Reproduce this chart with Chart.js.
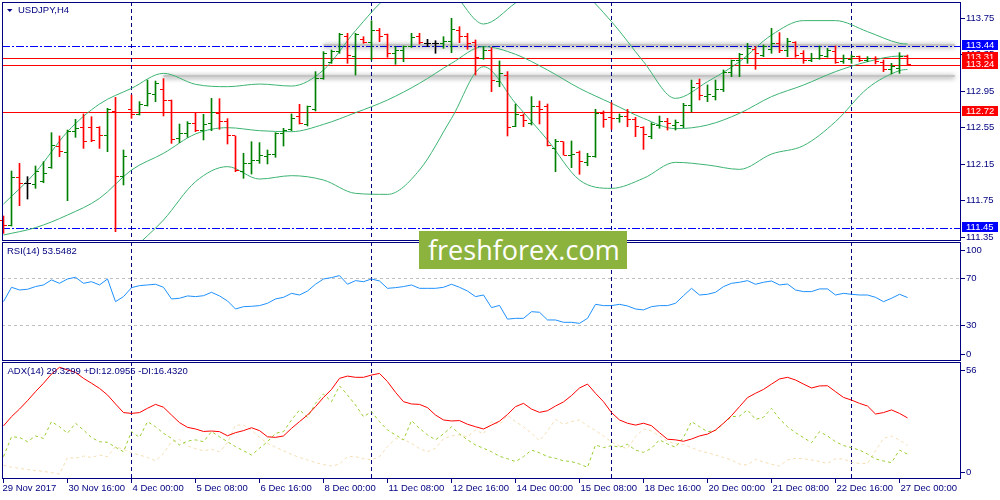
<!DOCTYPE html>
<html>
<head>
<meta charset="utf-8">
<title>USDJPY,H4</title>
<script src="https://cdn.jsdelivr.net/npm/chart.js@4.4.1/dist/chart.umd.min.js"></script>
<style>
  html, body { margin: 0; padding: 0; background: #fff; }
  #wrap { position: relative; width: 1000px; height: 500px; overflow: hidden; background: #fff; }
  #wrap canvas { position: absolute; left: 0; }
  #logo {
    position: absolute; left: 419px; top: 231px; width: 208px; height: 38px;
    box-sizing: border-box; padding-left: 9px; background: #8db33f; color: #fff;
    font: 27px "Open Sans", sans-serif; line-height: 38px; white-space: nowrap;
  }
</style>
</head>
<body>
<div id="wrap">
  <canvas id="priceChart" width="1000" height="241" style="top:0px"></canvas>
  <canvas id="rsiChart" width="1000" height="119" style="top:242px"></canvas>
  <canvas id="adxChart" width="1000" height="139" style="top:361px"></canvas>
  <div id="logo">freshforex.com</div>
</div>
<script>
// time axis (bar index -> label)
const timeTickIdx = [0, 8, 16, 24, 32, 40, 48, 56, 64, 72, 80, 88, 96, 104, 112];
const timeTickText = ["29 Nov 2017", "30 Nov 16:00", "4 Dec 00:00", "5 Dec 08:00", "6 Dec 16:00",
  "8 Dec 00:00", "11 Dec 08:00", "12 Dec 16:00", "14 Dec 00:00", "15 Dec 08:00",
  "18 Dec 16:00", "20 Dec 00:00", "21 Dec 08:00", "22 Dec 16:00", "27 Dec 00:00"];
const weekStartIdx = [16, 46, 76, 106];

// USDJPY H4 bars
const barOpen = [111.536, 111.478, 112.007, 111.938, 111.920, 111.956, 112.113, 112.347, 112.281, 112.504,
  112.548, 112.552, 112.552, 112.467, 112.723, 112.011, 112.749, 112.687, 112.796, 112.906,
  112.968, 112.851, 112.431, 112.486, 112.595, 112.515, 112.595, 112.705, 112.614, 112.457,
  112.066, 112.157, 112.186, 112.230, 112.259, 112.486, 112.530, 112.668, 112.588, 112.742,
  113.089, 113.260, 113.381, 113.552, 113.326, 113.516, 113.479, 113.618, 113.564, 113.363,
  113.399, 113.436, 113.545, 113.472, 113.472, 113.472, 113.490, 113.618, 113.545, 113.479,
  113.308, 113.399, 113.052, 113.125, 112.566, 112.676, 112.595, 112.778, 112.785, 112.321,
  112.394, 112.248, 112.274, 112.168, 112.230, 112.705, 112.661, 112.643, 112.668, 112.639,
  112.552, 112.449, 112.577, 112.614, 112.577, 112.577, 112.796, 113.034, 112.888, 112.888,
  112.961, 113.151, 113.282, 113.308, 113.406, 113.344, 113.406, 113.472, 113.399, 113.479,
  113.363, 113.282, 113.308, 113.333, 113.381, 113.271, 113.297, 113.326, 113.282, 113.308,
  113.260, 113.180, 113.198, 113.326];
const barHigh = [111.580, 112.073, 112.157, 112.011, 112.128, 112.175, 112.493, 112.457, 112.522, 112.639,
  112.698, 112.668, 112.559, 112.760, 112.880, 112.303, 112.906, 112.833, 113.070, 113.059,
  113.085, 112.851, 112.588, 112.614, 112.705, 112.694, 112.869, 112.866, 112.647, 112.457,
  112.267, 112.394, 112.384, 112.303, 112.493, 112.541, 112.698, 112.804, 112.785, 113.162,
  113.381, 113.399, 113.582, 113.582, 113.582, 113.545, 113.720, 113.636, 113.574, 113.436,
  113.443, 113.582, 113.582, 113.516, 113.501, 113.545, 113.746, 113.655, 113.582, 113.509,
  113.436, 113.425, 113.279, 113.162, 112.807, 112.698, 112.888, 112.840, 112.807, 112.420,
  112.394, 112.402, 112.292, 112.267, 112.749, 112.731, 112.822, 112.698, 112.749, 112.661,
  112.559, 112.603, 112.676, 112.650, 112.632, 112.815, 113.070, 113.081, 113.016, 113.070,
  113.180, 113.289, 113.363, 113.472, 113.436, 113.454, 113.636, 113.589, 113.527, 113.490,
  113.392, 113.363, 113.443, 113.417, 113.443, 113.344, 113.344, 113.333, 113.326, 113.326,
  113.289, 113.253, 113.370, 113.344];
const barLow = [111.390, 111.470, 111.693, 111.766, 111.883, 111.945, 112.102, 112.230, 111.748, 112.442,
  112.321, 112.394, 112.321, 112.285, 111.408, 111.920, 112.650, 112.687, 112.785, 112.833,
  112.676, 112.376, 112.384, 112.442, 112.504, 112.413, 112.515, 112.530, 112.369, 112.066,
  111.993, 112.040, 112.157, 112.150, 112.223, 112.347, 112.515, 112.588, 112.566, 112.731,
  113.078, 113.253, 113.363, 113.253, 113.125, 113.472, 113.289, 113.490, 113.319, 113.242,
  113.271, 113.428, 113.465, 113.436, 113.363, 113.417, 113.370, 113.479, 113.406, 113.125,
  113.297, 112.943, 112.997, 112.457, 112.559, 112.559, 112.577, 112.588, 112.347, 112.066,
  112.248, 112.110, 112.037, 112.131, 112.223, 112.552, 112.530, 112.607, 112.559, 112.449,
  112.310, 112.427, 112.541, 112.522, 112.522, 112.548, 112.720, 112.851, 112.833, 112.851,
  112.943, 113.107, 113.107, 113.253, 113.187, 113.326, 113.363, 113.370, 113.326, 113.319,
  113.253, 113.271, 113.297, 113.319, 113.253, 113.253, 113.253, 113.271, 113.271, 113.246,
  113.162, 113.136, 113.143, 113.235];
const barClose = [111.478, 112.007, 111.934, 111.938, 112.066, 112.048, 112.354, 112.285, 112.511, 112.541,
  112.394, 112.405, 112.457, 112.742, 112.018, 112.237, 112.687, 112.807, 112.924, 113.034,
  112.851, 112.413, 112.486, 112.595, 112.522, 112.588, 112.712, 112.614, 112.464, 112.077,
  112.157, 112.186, 112.248, 112.259, 112.486, 112.515, 112.650, 112.595, 112.778, 113.089,
  113.363, 113.381, 113.564, 113.344, 113.564, 113.479, 113.611, 113.552, 113.363, 113.399,
  113.436, 113.538, 113.479, 113.472, 113.472, 113.490, 113.626, 113.545, 113.472, 113.319,
  113.399, 113.063, 113.143, 112.552, 112.687, 112.625, 112.778, 112.742, 112.358, 112.394,
  112.248, 112.259, 112.175, 112.230, 112.705, 112.639, 112.643, 112.668, 112.639, 112.559,
  112.478, 112.588, 112.614, 112.595, 112.603, 112.796, 112.990, 112.895, 112.906, 112.961,
  113.151, 113.289, 113.355, 113.417, 113.363, 113.436, 113.472, 113.399, 113.490, 113.344,
  113.289, 113.308, 113.344, 113.392, 113.260, 113.308, 113.326, 113.289, 113.304, 113.271,
  113.180, 113.216, 113.326, 113.245];

// Bollinger bands, read every 4 bars
const bbIdx = [0, 4, 8, 12, 16, 20, 24, 28, 32, 36, 40, 44, 48, 52, 56, 60, 64, 68, 72, 76,
  80, 84, 88, 92, 96, 100, 104, 108, 112, 113];
const bbUpper = [111.711, 112.058, 112.504, 112.807, 112.979, 113.143, 113.023, 112.997, 113.026, 113.004,
  113.180, 113.611, 113.984, 114.166, 114.038, 113.684, 113.914, 114.166, 114.057, 113.710,
  113.271, 112.869, 113.052, 113.271, 113.563, 113.721, 113.721, 113.600, 113.472, 113.465];
const bbMiddle = [111.372, 111.452, 111.591, 111.773, 112.084, 112.267, 112.479, 112.548, 112.515, 112.504,
  112.584, 112.712, 112.851, 113.034, 113.253, 113.436, 113.352, 113.180, 112.979, 112.815,
  112.650, 112.537, 112.577, 112.705, 112.888, 113.015, 113.162, 113.271, 113.333, 113.333];
const bbLower = [111.032, 110.846, 110.678, 110.740, 111.189, 111.536, 111.956, 112.121, 111.985, 112.022,
  111.974, 111.828, 111.817, 112.084, 112.650, 113.216, 112.815, 112.413, 111.974, 111.883,
  111.993, 112.168, 112.139, 112.091, 112.259, 112.351, 112.614, 112.979, 113.173, 113.187];

// RSI(14)
const rsiValues = [50, 62.3, 60, 60.6, 62.9, 64.3, 68.6, 65.7, 69.4, 70.9,
  65.7, 67.1, 64.3, 69.4, 50, 54.3, 62, 63.7, 64.3, 64.9,
  62.3, 52.3, 52.9, 54.9, 54.3, 55.1, 58, 54.9, 50.6, 43.7,
  45.7, 46, 46.6, 48.6, 52.3, 53.7, 57.1, 55.7, 59.1, 64.9,
  69.4, 70.6, 72.3, 64.9, 68, 67.1, 69.4, 67.7, 61.4, 62,
  62.9, 64.3, 61.4, 61.4, 61.4, 62.3, 64.9, 62.3, 59.1, 54.3,
  55.7, 44.9, 46.8, 35.0, 35.7, 35.7, 41.4, 40.9, 34.3, 34.3,
  32.3, 32.3, 31.4, 35.7, 47.7, 46.6, 46.6, 47.7, 46.3, 43.7,
  42.9, 45.7, 46.6, 46.6, 48.6, 55.1, 61.4, 55.7, 56.3, 58,
  62.9, 65.7, 66.6, 68, 64.9, 66.6, 67.7, 64.3, 65.1, 60,
  58.6, 58.6, 60.9, 60.9, 55.7, 57.1, 56.3, 55.7, 55.7, 53.7,
  50, 52.9, 56.3, 53.5482];
const rsiLevels = [70, 30];

// ADX(14), +DI, -DI
const adxValues = [25.9, 30.4, 34.1, 38.2, 42.6, 46.7, 51.2, 54.5, 53.2, 52,
  49.1, 46.7, 44.2, 41, 36.6, 32.4, 32, 32.4, 34.5, 36.4,
  35, 31.2, 27.5, 25.2, 24.4, 23.2, 23.4, 23.1, 21.1, 22.6,
  23.6, 25, 23.6, 20.6, 20.3, 21, 24.7, 28, 31.2, 35.3,
  39.8, 43.7, 49.1, 50.2, 49.6, 49.6, 50.7, 51.5, 47.5, 42.3,
  37.7, 36.6, 36.4, 34.8, 31.2, 28.8, 28.3, 28.5, 26.7, 25.5,
  24.4, 26.3, 28.2, 31.5, 35.3, 36.9, 34.1, 32.5, 33.3, 35.6,
  37.6, 40.7, 44.4, 46.3, 41.8, 37.7, 32.4, 28.8, 27.2, 26.3,
  27.2, 26, 22.6, 19.4, 19.1, 18.4, 19.5, 21, 21.9, 23.9,
  27.2, 30.9, 35.3, 39.7, 41.8, 43.7, 46.3, 48.8, 49.6, 48.3,
  46.3, 44.4, 45.4, 45.5, 42.6, 39.8, 38.5, 36.9, 35.6, 31.7,
  32.4, 33.7, 32, 29.8];
const plusDi = [10.9, 20.6, 20.3, 18.2, 21, 19.8, 28, 25.5, 22.3, 27.2,
  23.9, 20.2, 18.2, 17.9, 15.5, 13.3, 23.1, 20.3, 28, 25.5,
  22.3, 19.8, 16.6, 18.5, 19.1, 18.2, 23.1, 20.6, 18.2, 15.8,
  13.8, 11.7, 15, 18.2, 22.3, 23.1, 28.8, 33.7, 30.1, 36.9,
  41.5, 37.7, 45.4, 41, 36.1, 30.4, 32.8, 28, 23.9, 21.5,
  19.1, 28.5, 24.7, 21.5, 19.1, 22, 25.5, 22, 19.1, 16.6,
  15, 13.3, 11.1, 9.9, 8.5, 10.9, 14.1, 12.8, 10.9, 10.1,
  8.9, 8.5, 7.3, 5.7, 16.6, 15.3, 16.3, 15.5, 16.9, 14.1,
  13, 15, 19.1, 17.1, 15.5, 20.3, 28, 25.5, 23.1, 23.6,
  27.2, 30.4, 30.7, 33.7, 29.1, 30.1, 34.5, 29.3, 25.5, 22.6,
  20.2, 17.7, 23.1, 21, 18.2, 16.3, 15.3, 14.1, 12.2, 9.8,
  8.8, 8, 14.1, 12.1];
const minusDi = [6.8, 5.7, 5.2, 4.6, 4.1, 3.7, 3.1, 2.4, 10.5, 10.1,
  11.2, 10.5, 11.7, 10.9, 15.8, 14.5, 12.8, 11.7, 10.5, 8.9,
  12.5, 18.2, 19.3, 16.1, 14.8, 13.8, 14.5, 13.2, 17.7, 26.3,
  26.3, 23.9, 20.3, 17.4, 15.5, 13.8, 12, 10.5, 9.3, 8,
  7, 6.3, 7.3, 10.9, 10.9, 9.9, 9.3, 10.9, 15.8, 19.7,
  19.3, 17.4, 14.8, 13.3, 15, 19.7, 21, 21.5, 20.6, 23.9,
  22, 28, 26.5, 31.1, 28, 25.5, 22.3, 18.7, 23.4, 29.1,
  26.7, 28, 28.8, 25.9, 23.6, 21, 18.1, 16.1, 14.8, 20.6,
  24.4, 23.4, 21.1, 18.4, 17.2, 16.9, 15.3, 13.8, 12.8, 11.7,
  10.5, 9.3, 7.3, 6.8, 9.6, 8.3, 7.2, 6.3, 9.3, 10.1,
  9.9, 9.3, 8.5, 7.6, 9.8, 9.8, 8.1, 7.6, 7.6, 13.8,
  19.8, 21, 19, 16.4];

// axis ticks
const priceTicks = [113.75, 113.35, 112.95, 112.55, 112.15, 111.75, 111.35];
const rsiTicks = [100, 70, 30, 0];
const adxTicks = [56, 0];

// chart objects on the price pane
const redLevels = [113.31, 113.24, 112.72];
const blueLevels = [113.44, 111.45];
const bandPrice = [113.454, 113.114];
const bandFrom = [40, 20];
const bandTo = [118.9, 118.9];
const tagPrice = [113.44, 113.31, 113.24, 112.72, 111.45];
const tagColor = ["#0000ff", "#ff0000", "#ff0000", "#ff0000", "#0000ff"];

const NAVY = "#000080";
const FONT = '9.5px "Liberation Sans", Arial, sans-serif';
const UP = "#008000", DOWN = "#ff0000", DOJI = "#000000";
const BB_GREEN = "#3cb371";

const barColors = barClose.map((c, i) => c > barOpen[i] ? UP : (c < barOpen[i] ? DOWN : DOJI));

function xAxis() {
  return { type: "linear", display: false, min: -0.1875, max: 119.5625, offset: false };
}

function pts(idx, vals) {
  return vals.map((v, k) => ({ x: idx ? idx[k] : k, y: v }));
}

// helpers shared by the panes
function drawFrame(chart) {
  const { ctx, chartArea: a } = chart;
  ctx.save();
  ctx.strokeStyle = NAVY;
  ctx.lineWidth = 1;
  ctx.strokeRect(a.left + 0.5, a.top + 0.5, a.right - a.left, a.bottom - a.top);
  ctx.restore();
}

function drawSeparators(chart) {
  const { ctx, chartArea: a, scales: { x } } = chart;
  ctx.save();
  ctx.strokeStyle = NAVY;
  ctx.lineWidth = 1;
  ctx.setLineDash([4, 3]);
  weekStartIdx.forEach(i => {
    const px = Math.floor(x.getPixelForValue(i)) + 0.5;
    ctx.beginPath();
    ctx.moveTo(px, a.top);
    ctx.lineTo(px, a.bottom);
    ctx.stroke();
  });
  ctx.restore();
}

function drawHLine(chart, value, color, dash) {
  const { ctx, chartArea: a, scales: { y } } = chart;
  const py = Math.round(y.getPixelForValue(value)) + 0.5;
  ctx.save();
  ctx.strokeStyle = color;
  ctx.lineWidth = 1;
  ctx.setLineDash(dash || []);
  ctx.beginPath();
  ctx.moveTo(a.left, py);
  ctx.lineTo(a.right, py);
  ctx.stroke();
  ctx.restore();
}

function drawYLabels(chart, ticks, digits, clamp) {
  const { ctx, chartArea: a, scales: { y } } = chart;
  ctx.save();
  ctx.font = FONT;
  ctx.fillStyle = NAVY;
  ctx.strokeStyle = NAVY;
  ctx.textAlign = "left";
  ctx.textBaseline = "middle";
  ticks.forEach(v => {
    let py = y.getPixelForValue(v);
    if (clamp) py = Math.min(Math.max(py, a.top + 7.5), a.bottom - 6.5);
    py = Math.round(py);
    ctx.beginPath();
    ctx.moveTo(a.right + 1, py + 0.5);
    ctx.lineTo(a.right + 5, py + 0.5);
    ctx.stroke();
    ctx.fillText(v.toFixed(digits), a.right + 6, py + 0.5);
  });
  ctx.restore();
}

function drawCaption(chart, text, x, y) {
  const ctx = chart.ctx;
  ctx.save();
  ctx.font = FONT;
  ctx.fillStyle = NAVY;
  ctx.textAlign = "left";
  ctx.textBaseline = "middle";
  ctx.fillText(text, x, y);
  ctx.restore();
}

// price pane: objects, bar ticks, axis, price tags
const pricePane = {
  id: "pricePane",
  beforeDatasetsDraw(chart) {
    const { ctx, scales: { x, y } } = chart;
    redLevels.forEach(v => drawHLine(chart, v, "#ff0000"));
    blueLevels.forEach(v => drawHLine(chart, v, "#0000ff", [8, 2, 2, 2]));
    // channel lines: light grey with a soft shadow
    ctx.save();
    bandPrice.forEach((p, k) => {
      const py = Math.round(y.getPixelForValue(p));
      const x1 = x.getPixelForValue(bandFrom[k]);
      const x2 = x.getPixelForValue(bandTo[k]);
      ctx.shadowColor = "rgba(0,0,0,0.55)";
      ctx.shadowBlur = 5;
      ctx.shadowOffsetY = 1;
      ctx.strokeStyle = "#c4c4c4";
      ctx.lineWidth = 2;
      ctx.beginPath();
      ctx.moveTo(x1, py);
      ctx.lineTo(x2, py);
      ctx.stroke();
    });
    ctx.restore();
    drawSeparators(chart);
  },
  afterDatasetsDraw(chart) {
    const { ctx, scales: { x, y } } = chart;
    ctx.save();
    barOpen.forEach((o, i) => {
      const px = Math.floor(x.getPixelForValue(i));
      ctx.fillStyle = barColors[i];
      ctx.fillRect(px - 3, Math.floor(y.getPixelForValue(o)), 3, 1);
      ctx.fillRect(px + 1, Math.floor(y.getPixelForValue(barClose[i])), 3, 1);
    });
    ctx.restore();
  },
  afterDraw(chart) {
    const { ctx, chartArea: a, scales: { y } } = chart;
    drawFrame(chart);
    drawYLabels(chart, priceTicks, 2, false);
    ctx.save();
    ctx.font = FONT;
    ctx.textAlign = "left";
    ctx.textBaseline = "middle";
    tagPrice.forEach((v, k) => {
      const py = Math.round(y.getPixelForValue(v));
      ctx.fillStyle = tagColor[k];
      ctx.fillRect(a.right + 2, py - 6, 36, 10);
      ctx.fillStyle = "#ffffff";
      ctx.fillText(v.toFixed(2), a.right + 6, py - 0.5);
    });
    // symbol caption with the small drop-down marker
    ctx.fillStyle = NAVY;
    ctx.beginPath();
    ctx.moveTo(7, 9);
    ctx.lineTo(12.5, 9);
    ctx.lineTo(9.75, 12);
    ctx.closePath();
    ctx.fill();
    ctx.restore();
    drawCaption(chart, "USDJPY,H4", 18, 10.5);
  }
};

new Chart(document.getElementById("priceChart"), {
  type: "bar",
  data: {
    datasets: [
      {
        type: "bar",
        data: barLow.map((lo, i) => ({ x: i, y: [lo, barHigh[i]] })),
        backgroundColor: barColors,
        borderWidth: 0,
        barThickness: 1,
        grouped: false
      },
      { type: "line", data: pts(bbIdx, bbUpper), borderColor: BB_GREEN, borderWidth: 1, pointRadius: 0, cubicInterpolationMode: "monotone" },
      { type: "line", data: pts(bbIdx, bbMiddle), borderColor: BB_GREEN, borderWidth: 1, pointRadius: 0, cubicInterpolationMode: "monotone" },
      { type: "line", data: pts(bbIdx, bbLower), borderColor: BB_GREEN, borderWidth: 1, pointRadius: 0, cubicInterpolationMode: "monotone" }
    ]
  },
  options: {
    responsive: false,
    animation: false,
    events: [],
    layout: { padding: { left: 2, top: 2, right: 40, bottom: 1 } },
    scales: {
      x: xAxis(),
      y: { type: "linear", display: false, min: 111.317, max: 113.925 }
    },
    plugins: { legend: { display: false }, tooltip: { enabled: false } }
  },
  plugins: [pricePane]
});

// RSI pane
const rsiPane = {
  id: "rsiPane",
  beforeDatasetsDraw(chart) {
    rsiLevels.forEach(v => drawHLine(chart, v, "#c0c0c0", [3, 3]));
    drawSeparators(chart);
  },
  afterDraw(chart) {
    drawFrame(chart);
    drawYLabels(chart, rsiTicks, 0, true);
    drawCaption(chart, "RSI(14) 53.5482", 7, 9);
  }
};

new Chart(document.getElementById("rsiChart"), {
  type: "line",
  data: {
    datasets: [
      { data: pts(null, rsiValues), borderColor: "#1e90ff", borderWidth: 1, pointRadius: 0, tension: 0 }
    ]
  },
  options: {
    responsive: false,
    animation: false,
    events: [],
    layout: { padding: { left: 2, top: 0, right: 40, bottom: 1 } },
    scales: {
      x: xAxis(),
      y: { type: "linear", display: false, min: 0, max: 101.1 }
    },
    plugins: { legend: { display: false }, tooltip: { enabled: false } }
  },
  plugins: [rsiPane]
});

// ADX pane with the time axis under it
const adxPane = {
  id: "adxPane",
  beforeDatasetsDraw(chart) {
    drawSeparators(chart);
  },
  afterDraw(chart) {
    const { ctx, chartArea: a, scales: { x } } = chart;
    drawFrame(chart);
    drawYLabels(chart, adxTicks, 0, true);
    drawCaption(chart, "ADX(14) 29.3299 +DI:12.0955 -DI:16.4320", 7.5, 10.7);
    ctx.save();
    ctx.font = FONT;
    ctx.fillStyle = NAVY;
    ctx.strokeStyle = NAVY;
    ctx.textAlign = "left";
    ctx.textBaseline = "middle";
    timeTickIdx.forEach((i, k) => {
      const px = Math.floor(x.getPixelForValue(i)) + 0.5;
      ctx.beginPath();
      ctx.moveTo(px, a.bottom + 1);
      ctx.lineTo(px, a.bottom + 5);
      ctx.stroke();
      ctx.fillText(timeTickText[k], k === 0 ? px - 1 : px + 1, a.bottom + 10);
    });
    ctx.restore();
  }
};

new Chart(document.getElementById("adxChart"), {
  type: "line",
  data: {
    datasets: [
      { data: pts(null, adxValues), borderColor: "#ff0000", borderWidth: 1, pointRadius: 0, tension: 0 },
      { data: pts(null, plusDi), borderColor: "#9acd32", borderWidth: 1, borderDash: [3, 3], pointRadius: 0, tension: 0 },
      { data: pts(null, minusDi), borderColor: "#f5deb3", borderWidth: 1, borderDash: [3, 3], pointRadius: 0, tension: 0 }
    ]
  },
  options: {
    responsive: false,
    animation: false,
    events: [],
    layout: { padding: { left: 2, top: 1, right: 40, bottom: 22 } },
    scales: {
      x: xAxis(),
      y: { type: "linear", display: false, min: 0.49, max: 57.07 }
    },
    plugins: { legend: { display: false }, tooltip: { enabled: false } }
  },
  plugins: [adxPane]
});
</script>
</body>
</html>
